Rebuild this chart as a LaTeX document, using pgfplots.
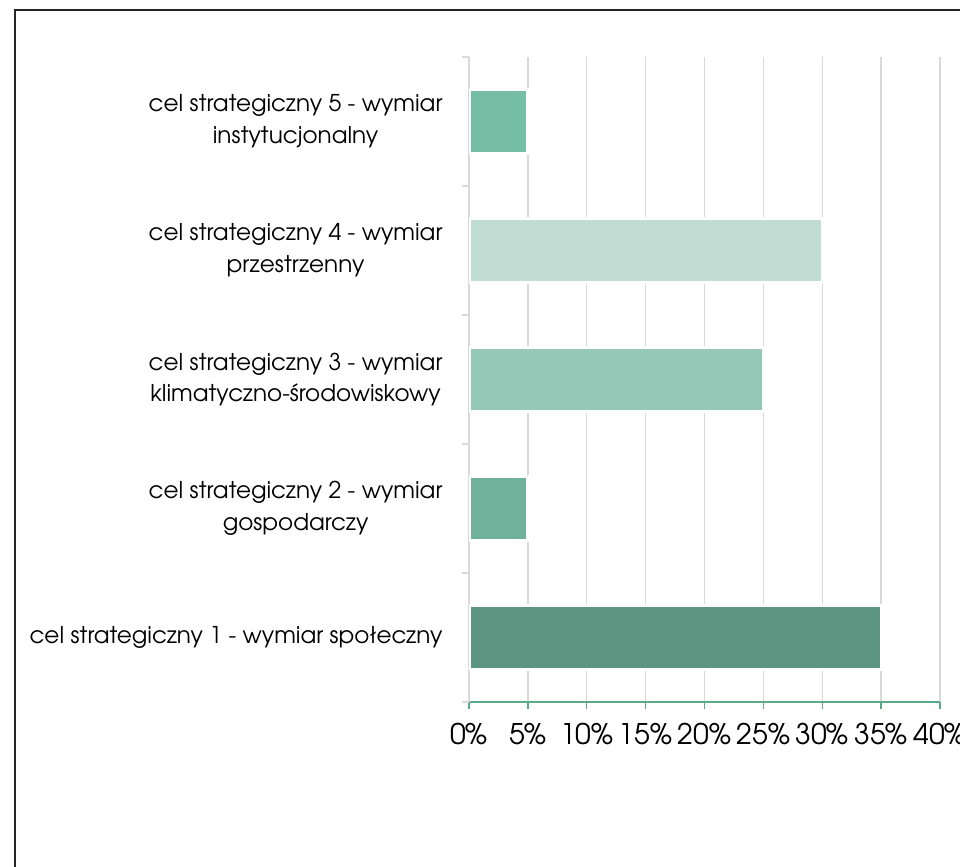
\documentclass[border=0pt]{standalone}
\usepackage{pgfplots}
\pgfplotsset{compat=1.18}
\usepackage{fontspec}
\setmainfont{texgyreadventor-regular.otf}
\definecolor{cA}{HTML}{5C9683}
\definecolor{cB}{HTML}{6FB19B}
\definecolor{cC}{HTML}{95C8B6}
\definecolor{cD}{HTML}{C0DCD3}
\definecolor{cE}{HTML}{77BEA7}
\definecolor{gridgray}{HTML}{D9D9D9}
\definecolor{axgreen}{HTML}{5AAA88}
\definecolor{frame}{HTML}{262626}
\begin{document}
\begin{tikzpicture}[x=1bp,y=1bp]
\useasboundingbox (0,0) rectangle (960,867);
\draw[line width=2.2bp, color=frame] (15,-5) -- (15,857) -- (975,857);
\begin{axis}[
  at={(469bp,165bp)}, anchor=south west,
  width=471bp, height=645bp, scale only axis,
  xmin=0, xmax=40, ymin=0.5, ymax=5.5,
  xbar, bar width=64bp, bar shift=0pt,
  /pgf/number format/assume math mode=true,
  xtick={0,5,...,40},
  xticklabel={\pgfmathprintnumber{\tick}\%},
  xticklabel style={font=\fontsize{28.5}{32}\selectfont, yshift=-11bp},
  xmajorgrids,
  grid style={color=gridgray, line width=1.3bp},
  ytick={1,2,3,4,5},
  yticklabels={
    {cel strategiczny 1 - wymiar społeczny},
    {cel strategiczny 2 - wymiar\\gospodarczy},
    {cel strategiczny 3 - wymiar\\klimatyczno-środowiskowy},
    {cel strategiczny 4 - wymiar\\przestrzenny},
    {cel strategiczny 5 - wymiar\\instytucjonalny}},
  yticklabel style={font=\fontsize{23.2}{32}\selectfont, align=center, anchor=east, xshift=-16bp},
  minor ytick={0.5,1.5,...,5.5},
  tick align=outside,
  major tick length=7bp, minor tick length=7bp,
  major y tick style={draw=none},
  minor y tick style={draw=gridgray, line width=1.3bp},
  major x tick style={draw=axgreen, line width=1.3bp},
  axis x line*=bottom, axis y line*=left,
  x axis line style={draw=axgreen, line width=1.3bp},
  y axis line style={draw=gridgray, line width=1.3bp},
  every axis plot/.append style={draw=white, line width=3bp},
]
\addplot[fill=cA] coordinates {(35,1)};
\addplot[fill=cB] coordinates {(5,2)};
\addplot[fill=cC] coordinates {(25,3)};
\addplot[fill=cD] coordinates {(30,4)};
\addplot[fill=cE] coordinates {(5,5)};
\end{axis}
\end{tikzpicture}
\end{document}
